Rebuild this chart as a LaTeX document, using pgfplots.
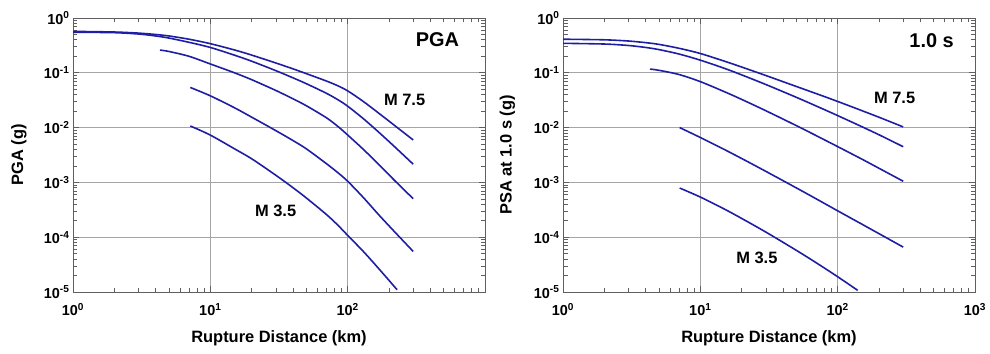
\documentclass[border=0pt]{standalone}
\usepackage{pgfplots}
\pgfplotsset{compat=1.18}
\usepackage{fontspec}
\setmainfont{Liberation Sans}
\definecolor{curve}{RGB}{30,30,165}
\definecolor{gridc}{RGB}{165,165,165}
\definecolor{framec}{RGB}{95,95,95}
\tikzset{cv/.style={curve, line width=1.6bp, smooth}}
\begin{document}
\begin{tikzpicture}
\useasboundingbox (0,0) rectangle (990bp,354bp);
% ---------------- PGA ----------------
\begin{axis}[xmode=log, ymode=log,
    scale only axis, width=412bp, height=274bp,
    xmin=1, xmax=1000, ymin=1e-5, ymax=1,
    xtick={1,10,100,1000},
    ytick={1e-5,1e-4,1e-3,1e-2,1e-1,1},
    minor xtick={2,3,4,5,6,7,8,9,20,30,40,50,60,70,80,90,200,300,400,500,600,700,800,900},
    minor ytick={2e-5,3e-5,4e-5,5e-5,6e-5,7e-5,8e-5,9e-5,2e-4,3e-4,4e-4,5e-4,6e-4,7e-4,8e-4,9e-4,2e-3,3e-3,4e-3,5e-3,6e-3,7e-3,8e-3,9e-3,2e-2,3e-2,4e-2,5e-2,6e-2,7e-2,8e-2,9e-2,2e-1,3e-1,4e-1,5e-1,6e-1,7e-1,8e-1,9e-1},
    yticklabels={10\textsuperscript{-5},10\textsuperscript{-4},10\textsuperscript{-3},10\textsuperscript{-2},10\textsuperscript{-1},10\textsuperscript{0}},
    grid=major, major grid style={gridc, line width=0.9bp},
    axis line style={framec, line width=0.9bp},
    tick style={framec, line width=0.7bp},
    major tick length=6bp, minor tick length=4.5bp,
    tick align=inside,
    xtick pos=both, ytick pos=both,
    xticklabel pos=lower, yticklabel pos=left,
    ticklabel style={font=\fontsize{14.5}{16}\selectfont\bfseries},
    xticklabel style={yshift=-8bp},
    label style={font=\fontsize{16.5}{19}\selectfont\bfseries},
    xlabel style={at={(axis description cs:0.5,-0.168)}, anchor=center},
  at={(73bp,62bp)}, anchor=south west,
  xticklabels={10\textsuperscript{0},10\textsuperscript{1},10\textsuperscript{2},},
  xlabel={Rupture Distance (km)}, ylabel={PGA (g)},
  ylabel style={at={(axis description cs:-0.131,0.5)}, anchor=center}]
\addplot[cv] coordinates {(1,0.57)(2,0.555)(3,0.53)(4,0.50)(5,0.47)(7,0.41)(10,0.34)(15,0.261)(20,0.2105)(30,0.151)(40,0.118)(50,0.0965)(70,0.0708)(85,0.0578)(100,0.0468)(130,0.030)(170,0.018)(220,0.0109)(300,0.00595)};
\addplot[cv] coordinates {(1,0.55)(2,0.54)(3,0.51)(4,0.47)(5,0.43)(7,0.36)(10,0.29)(15,0.2097)(20,0.1628)(30,0.1094)(40,0.0809)(50,0.0633)(70,0.0423)(85,0.0322)(100,0.0246)(130,0.01457)(170,0.00807)(220,0.00446)(300,0.00215)};
\addplot[cv] coordinates {(4.3,0.26)(5,0.245)(7,0.20)(10,0.145)(15,0.0999)(20,0.0749)(30,0.0476)(40,0.0335)(50,0.02506)(70,0.01513)(85,0.01047)(100,0.00733)(130,0.00401)(170,0.00208)(220,0.00108)(300,0.000504)};
\addplot[cv] coordinates {(7.15,0.054)(10,0.038)(15,0.023)(20,0.0155)(30,0.0088)(40,0.0058)(50,0.0041)(70,0.0022)(85,0.0015)(100,0.00105)(130,0.00053)(170,0.00025)(220,0.000125)(300,0.000055)};
\addplot[cv] coordinates {(7.15,0.0107)(10,0.0073)(15,0.0041)(20,0.0027)(30,0.00135)(40,0.00080)(50,0.00052)(70,0.00026)(85,0.000165)(100,0.000108)(130,0.000055)(170,0.000026)(229,0.000011)};
\node[font=\fontsize{20}{22}\selectfont\bfseries] at (axis cs:451,0.40) {PGA};
\node[font=\fontsize{16.5}{18}\selectfont\bfseries] at (axis cs:260,0.0319) {M 7.5};
\node[font=\fontsize{16.5}{18}\selectfont\bfseries] at (axis cs:29.9,0.0003) {M 3.5};
\end{axis}
% ---------------- PSA 1.0 s ----------------
\begin{axis}[xmode=log, ymode=log,
    scale only axis, width=412bp, height=274bp,
    xmin=1, xmax=1000, ymin=1e-5, ymax=1,
    xtick={1,10,100,1000},
    ytick={1e-5,1e-4,1e-3,1e-2,1e-1,1},
    minor xtick={2,3,4,5,6,7,8,9,20,30,40,50,60,70,80,90,200,300,400,500,600,700,800,900},
    minor ytick={2e-5,3e-5,4e-5,5e-5,6e-5,7e-5,8e-5,9e-5,2e-4,3e-4,4e-4,5e-4,6e-4,7e-4,8e-4,9e-4,2e-3,3e-3,4e-3,5e-3,6e-3,7e-3,8e-3,9e-3,2e-2,3e-2,4e-2,5e-2,6e-2,7e-2,8e-2,9e-2,2e-1,3e-1,4e-1,5e-1,6e-1,7e-1,8e-1,9e-1},
    yticklabels={10\textsuperscript{-5},10\textsuperscript{-4},10\textsuperscript{-3},10\textsuperscript{-2},10\textsuperscript{-1},10\textsuperscript{0}},
    grid=major, major grid style={gridc, line width=0.9bp},
    axis line style={framec, line width=0.9bp},
    tick style={framec, line width=0.7bp},
    major tick length=6bp, minor tick length=4.5bp,
    tick align=inside,
    xtick pos=both, ytick pos=both,
    xticklabel pos=lower, yticklabel pos=left,
    ticklabel style={font=\fontsize{14.5}{16}\selectfont\bfseries},
    xticklabel style={yshift=-8bp},
    label style={font=\fontsize{16.5}{19}\selectfont\bfseries},
    xlabel style={at={(axis description cs:0.5,-0.168)}, anchor=center},
  at={(563bp,62bp)}, anchor=south west,
  xticklabels={10\textsuperscript{0},10\textsuperscript{1},10\textsuperscript{2},10\textsuperscript{3}},
  xlabel={Rupture Distance (km)}, ylabel={PSA at 1.0 s (g)},
  ylabel style={at={(axis description cs:-0.135,0.5)}, anchor=center}]
\addplot[cv] coordinates {(1,0.41)(2,0.40)(3,0.38)(4,0.355)(5,0.33)(7,0.28)(10,0.225)(15,0.1627)(20,0.1274)(30,0.0892)(50,0.0563)(70,0.0416)(100,0.0300)(150,0.0204)(200,0.01545)(300,0.0103)};
\addplot[cv] coordinates {(1,0.345)(2,0.335)(3,0.315)(4,0.29)(5,0.265)(7,0.22)(10,0.17)(15,0.1204)(20,0.0916)(30,0.0611)(50,0.0357)(70,0.0247)(100,0.01657)(150,0.01039)(200,0.0074)(300,0.00448)};
\addplot[cv] coordinates {(4.3,0.117)(5,0.111)(7,0.093)(10,0.069)(15,0.0451)(20,0.0327)(30,0.0203)(50,0.01087)(70,0.00711)(100,0.0045)(150,0.00266)(200,0.00181)(300,0.00105)};
\addplot[cv] coordinates {(7.07,0.0100)(10,0.0066)(15,0.00397)(20,0.00273)(30,0.00159)(50,0.000794)(70,0.000499)(100,0.000303)(150,0.000173)(200,0.000116)(300,0.000066)};
\addplot[cv] coordinates {(7.07,0.00079)(10,0.00054)(15,0.000325)(20,0.00022)(30,0.000124)(50,0.0000576)(70,0.000034)(100,0.000019)(140,0.0000107)};
\node[font=\fontsize{20}{22}\selectfont\bfseries] at (axis cs:483,0.38) {1.0 s};
\node[font=\fontsize{16.5}{18}\selectfont\bfseries] at (axis cs:260,0.0347) {M 7.5};
\node[font=\fontsize{16.5}{18}\selectfont\bfseries] at (axis cs:25.8,0.000042) {M 3.5};
\end{axis}
\end{tikzpicture}
\end{document}
